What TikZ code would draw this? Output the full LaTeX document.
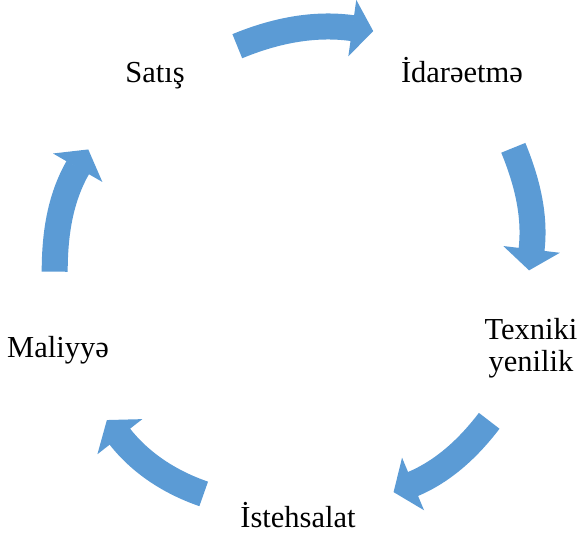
\documentclass[tikz,border=0pt]{standalone}
\usepackage{fontspec}
\setmainfont{Liberation Serif}
\usetikzlibrary{calc}
\definecolor{accblue}{HTML}{5B9BD5}
% #1 name prefix, #2 out angle at tail, #3 in angle at head, #4 head direction
\newcommand\cyclearrow[4]{%
  \draw[shaft] (#1t) to[out=#2, in=#3, looseness=0.87] (#1h);
  \fill[headfill] ($(#1h)+(#4+90:28.5)+(#4:-0.6)$) -- ($(#1h)+(#4:20.5)$) -- ($(#1h)+(#4-90:28.5)+(#4:-0.6)$) -- cycle;}
\begin{document}
\begin{tikzpicture}[x=1pt,y=1pt,
  shaft/.style={draw=accblue, line width=26pt, line cap=butt},
  headfill/.style={fill=accblue, draw=none},
  lbl/.style={font=\fontsize{30.5}{32}\selectfont, inner sep=0pt, text=black}]
\useasboundingbox (0,0) rectangle (581,-533);
% arrow coordinates: tail mid (t) and head base mid (h)
\coordinate (at) at (54.7,-271.7);  \coordinate (ah) at (78,-167.2);
\coordinate (bt) at (237.3,-46.2);  \coordinate (bh) at (352.9,-28.2);
\coordinate (ct) at (513.3,-147.8); \coordinate (ch) at (531.5,-250);
\coordinate (dt) at (489.2,-420.8); \coordinate (dh) at (412.5,-484.2);
\coordinate (et) at (203.7,-493.9); \coordinate (eh) at (119.5,-436.2);
\cyclearrow{a}{90}{240}{60}
\cyclearrow{b}{22.4}{172}{-8}
\cyclearrow{c}{-67.7}{83.2}{-96.8}
\cyclearrow{d}{-127.3}{22.7}{-157.3}
\cyclearrow{e}{161}{-52}{128}
% labels
\node[lbl, anchor=base] (satis) at (155,-82) {Satış};
\node[lbl, anchor=base] (idare) at (462,-82) {İdarəetmə};
\node[lbl, anchor=base, align=center] (texniki) at (531,-371) {Texniki\\yenilik};
\node[lbl, anchor=base] (maliyye) at (58,-357) {Maliyyə};
\node[lbl, anchor=base] (istehsalat) at (298,-527) {İstehsalat};
\end{tikzpicture}
\end{document}
